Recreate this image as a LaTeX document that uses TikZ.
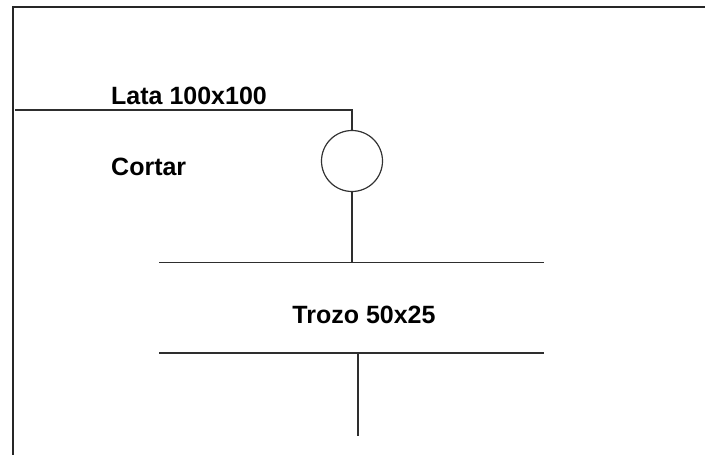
\documentclass[tikz,border=0pt]{standalone}
\usepackage{fontspec}
\setmainfont{Liberation Sans}
\begin{document}
\begin{tikzpicture}[x=1pt,y=-1pt,
  wire/.style={draw=black!82,line width=1.5pt},
  frameline/.style={draw=black!85,line width=2pt},
  lbl/.style={font=\fontsize{25}{29}\selectfont\bfseries,text=black,inner sep=0pt},
  cut/.style={circle,draw=black!80,line width=1.2pt,minimum size=61pt,inner sep=0pt}]
  \useasboundingbox (0,0) rectangle (705,455);
  % outer frame (top and left edges)
  \coordinate (ftl) at (13,7);
  \coordinate (ftr) at (706,7);
  \coordinate (fbl) at (13,456);
  \draw[frameline] (ftr) -- (ftl) -- (fbl);
  % input stock line
  \coordinate (in) at (15,110);
  \coordinate (bend) at (352,110);
  \node[cut] (c) at (352,161) {};
  \node[lbl,anchor=base west] (lata) at (111,104) {Lata 100x100};
  \node[lbl,anchor=base west] (cortar) at (111,175) {Cortar};
  % output bars
  \coordinate (j1) at (352,262.5);
  \coordinate (b1l) at (159,262.5);
  \coordinate (b1r) at (544,262.5);
  \coordinate (b2l) at (159,353);
  \coordinate (b2r) at (544,353);
  \coordinate (j2) at (358,353);
  \coordinate (out) at (358,436);
  \node[lbl,anchor=base] (trozo) at (364,323) {Trozo 50x25};
  \draw[wire] (in) -- (bend) -- (c.north);
  \draw[wire] (c.south) -- (j1);
  \draw[wire] (b1l) -- (b1r);
  \draw[wire] (b2l) -- (b2r);
  \draw[wire] (j2) -- (out);
\end{tikzpicture}
\end{document}
